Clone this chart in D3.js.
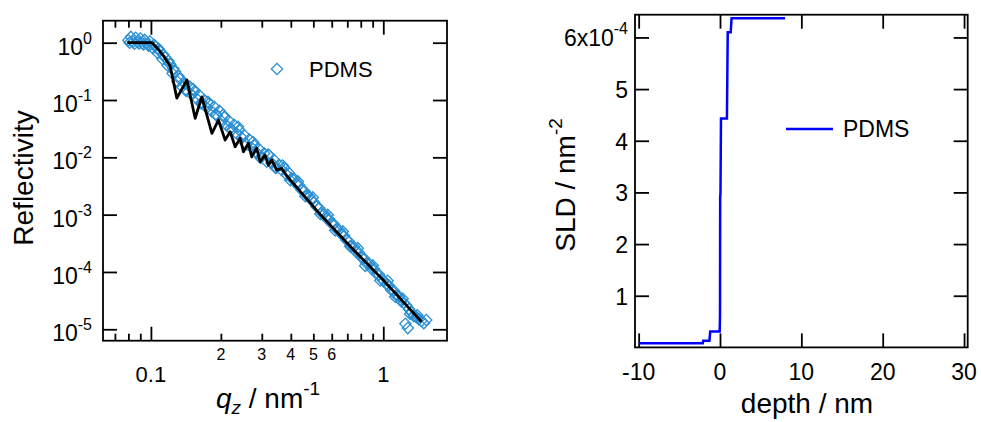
<!DOCTYPE html>
<html>
<head>
<meta charset="utf-8">
<script src="https://cdn.jsdelivr.net/npm/d3@7"></script>
<style>
  body { margin: 0; background: #fff; }
  svg text { font-family: "Liberation Sans", Arial, sans-serif; fill: #000; }
</style>
</head>
<body>
<svg id="chart" width="981" height="422"></svg>
<script>
(function () {
  "use strict";

  // reflectivity data (q in nm^-1)
  const qData = [0.080, 0.082, 0.084, 0.086, 0.088, 0.090, 0.092, 0.094, 0.097, 0.099,
    0.102, 0.104, 0.107, 0.109, 0.112, 0.115, 0.118, 0.121, 0.124, 0.127,
    0.130, 0.133, 0.136, 0.140, 0.143, 0.147, 0.150, 0.154, 0.158, 0.162,
    0.166, 0.170, 0.174, 0.178, 0.183, 0.187, 0.192, 0.197, 0.202, 0.207,
    0.212, 0.217, 0.223, 0.228, 0.234, 0.240, 0.246, 0.252, 0.258, 0.265,
    0.271, 0.278, 0.285, 0.292, 0.299, 0.307, 0.315, 0.322, 0.330, 0.339,
    0.347, 0.356, 0.365, 0.374, 0.383, 0.393, 0.403, 0.413, 0.423, 0.434,
    0.445, 0.456, 0.467, 0.479, 0.491, 0.503, 0.516, 0.529, 0.542, 0.556,
    0.570, 0.584, 0.598, 0.613, 0.629, 0.644, 0.661, 0.677, 0.694, 0.711,
    0.729, 0.748, 0.766, 0.786, 0.805, 0.826, 0.846, 0.867, 0.889, 0.911,
    0.934, 0.958, 0.982, 1.006, 1.031, 1.057, 1.084, 1.111, 1.139, 1.167,
    1.196, 1.226, 1.245, 1.257, 1.275, 1.289, 1.321, 1.354, 1.388, 1.422,
    1.458, 1.494, 1.530,
    // second pass of points in the same range
    0.081, 0.085, 0.089, 0.093, 0.098, 0.103, 0.108, 0.113, 0.119, 0.125,
    0.1315, 0.1415, 0.152, 0.164, 0.176, 0.1895, 0.2045, 0.220, 0.237, 0.255,
    0.275, 0.296, 0.319, 0.343, 0.369, 0.398, 0.429, 0.462, 0.497, 0.536,
    0.577, 0.621, 0.669, 0.720, 0.776, 0.836, 0.900, 0.970, 1.044, 1.125,
    1.211, 1.305, 1.400];
  const rData = [1.10, 1.26, 1.04, 1.22, 1.02, 1.18, 0.98, 1.12, 0.92, 1.05,
    0.80, 0.88, 0.66, 0.72, 0.52, 0.55, 0.40, 0.42, 0.29, 0.31,
    0.21, 0.233, 0.171, 0.195, 0.147, 0.171, 0.124, 0.142, 0.104, 0.120,
    0.088, 0.099, 0.073, 0.087, 0.063, 0.076, 0.055, 0.065, 0.042, 0.050,
    0.036, 0.043, 0.030, 0.037, 0.026, 0.030, 0.022, 0.0245, 0.0169, 0.0205,
    0.0148, 0.0163, 0.0121, 0.0140, 0.0102, 0.0117, 0.0084, 0.0110, 0.0080, 0.0090,
    0.0066, 0.0074, 0.0060, 0.0066, 0.0050, 0.0053, 0.0043, 0.0042, 0.0034, 0.0033,
    0.0027, 0.0026, 0.0022, 0.0021, 0.00178, 0.00165, 0.00138, 0.00130, 0.00108, 0.00104,
    0.00086, 0.00083, 0.00070, 0.00068, 0.00056, 0.00054, 0.00045, 0.00043, 0.00036, 0.00034,
    0.000280, 0.000272, 0.000222, 0.000216, 0.000180, 0.000172, 0.000142, 0.000140, 0.000114, 0.000113,
    0.0000930, 0.0000900, 0.0000760, 0.0000700, 0.0000610, 0.0000580, 0.0000480, 0.0000470, 0.0000390, 0.0000375,
    0.0000305, 0.0000290, 0.0000125, 0.0000260, 0.0000105, 0.0000225, 0.0000198, 0.0000170, 0.0000162, 0.0000150,
    0.0000140, 0.0000128, 0.0000145,
    1.00, 0.96, 0.97, 0.93, 0.88, 0.92, 0.78, 0.62, 0.48, 0.35,
    0.26, 0.145, 0.155, 0.088, 0.093, 0.056, 0.055, 0.032, 0.034, 0.0175,
    0.0185, 0.0098, 0.0112, 0.0066, 0.0072, 0.0040, 0.0038, 0.0021, 0.0020, 0.00103,
    0.00099, 0.00053, 0.00051, 0.00028, 0.00026, 0.000128, 0.000130, 0.000071, 0.000070, 0.000037,
    0.000034, 0.0000185, 0.0000175];

  // fit curve
  const qFit = [0.0791, 0.101, 0.1064, 0.1133, 0.121, 0.1293, 0.1428, 0.155, 0.1656, 0.183,
    0.1953, 0.2086, 0.2193, 0.2304, 0.2422, 0.250, 0.2627, 0.2716, 0.2852, 0.2952,
    0.3097, 0.3202, 0.3309, 0.3477, 0.3654, 0.385, 0.534, 0.718, 1.0, 1.461];
  const rFit = [1.0, 1.0, 0.808, 0.586, 0.392, 0.108, 0.223, 0.048, 0.113, 0.0262,
    0.0448, 0.020, 0.028, 0.0153, 0.0215, 0.0125, 0.0175, 0.0102, 0.0144, 0.0084,
    0.011, 0.0073, 0.009, 0.0060, 0.0064, 0.0047, 0.00102, 0.000283, 0.000072, 0.0000135];

  // SLD profile (depth nm, SLD nm^-2)
  const depth = [-10, -2.12, -2.06, -1.3, -1.2, -0.04, 0.0, 0.02, 0.06, 0.12, 0.85, 0.95, 1.32, 1.42, 8.0];
  const sld = [0.08e-4, 0.08e-4, 0.13e-4, 0.13e-4, 0.31e-4, 0.31e-4, 0.6e-4, 2.9e-4, 3.0e-4, 4.43e-4,
    4.43e-4, 6.1e-4, 6.1e-4, 6.37e-4, 6.37e-4];

  const qMajor = [0.1, 1];
  const qMinor = [0.07, 0.08, 0.09, 0.2, 0.3, 0.4, 0.5, 0.6, 0.7, 0.8, 0.9];
  const qMinorLabels = [0.2, 0.3, 0.4, 0.5, 0.6];
  const rTicks = [1, 1e-1, 1e-2, 1e-3, 1e-4, 1e-5];
  const depthTicks = [-10, 0, 10, 20, 30];
  const sldTicks = [1e-4, 2e-4, 3e-4, 4e-4, 5e-4, 6e-4];

  const seriesName = "PDMS";
  const dataColor = "#2a8fd3";
  const sldColor = "#0000ff";

  const svg = d3.select("#chart");

  function ticks(g, axis, transform) {
    const a = g.append("g").attr("transform", transform).call(axis);
    a.select(".domain").remove();
    a.selectAll("line").attr("stroke", "#000").attr("stroke-width", 1.8);
    a.selectAll("text").remove();
    return a;
  }

  // ---------- left: reflectivity ----------
  const L = { left: 103, right: 447, top: 20.7, bottom: 340.7 };
  const x1 = d3.scaleLog().domain([0.0622, 1.88]).range([L.left, L.right]);
  const y1 = d3.scaleLog().domain([6.32e-6, 2.42]).range([L.bottom, L.top]);
  const gl = svg.append("g");

  ticks(gl, d3.axisBottom(x1).tickValues(qMajor).tickSizeInner(-14).tickSizeOuter(0), `translate(0,${L.bottom})`);
  ticks(gl, d3.axisBottom(x1).tickValues(qMinor).tickSizeInner(-7).tickSizeOuter(0), `translate(0,${L.bottom})`);
  ticks(gl, d3.axisTop(x1).tickValues(qMajor).tickSizeInner(-14).tickSizeOuter(0), `translate(0,${L.top})`);
  ticks(gl, d3.axisTop(x1).tickValues(qMinor).tickSizeInner(-7).tickSizeOuter(0), `translate(0,${L.top})`);
  ticks(gl, d3.axisLeft(y1).tickValues(rTicks).tickSizeInner(-14).tickSizeOuter(0), `translate(${L.left},0)`);
  ticks(gl, d3.axisRight(y1).tickValues(rTicks).tickSizeInner(-14).tickSizeOuter(0), `translate(${L.right},0)`);

  const diamond = d3.symbol().type(d3.symbolSquare).size(64);
  gl.append("g").selectAll("path")
    .data(qData.map((q, i) => [q, rData[i]]))
    .join("path")
    .attr("d", diamond)
    .attr("transform", d => `translate(${x1(d[0])},${y1(d[1])}) rotate(45)`)
    .attr("fill", "none")
    .attr("stroke", dataColor)
    .attr("stroke-width", 1.3);

  gl.append("path")
    .datum(qFit.map((q, i) => [q, rFit[i]]))
    .attr("d", d3.line().x(d => x1(d[0])).y(d => y1(d[1])))
    .attr("fill", "none")
    .attr("stroke", "#000")
    .attr("stroke-width", 2.8)
    .attr("stroke-linejoin", "round");

  gl.append("rect")
    .attr("x", L.left).attr("y", L.top)
    .attr("width", L.right - L.left).attr("height", L.bottom - L.top)
    .attr("fill", "none").attr("stroke", "#000").attr("stroke-width", 1.8);

  // y tick labels 10^n
  rTicks.forEach(v => {
    const t = gl.append("text")
      .attr("x", L.left - 11).attr("y", y1(v) + 12)
      .attr("text-anchor", "end").style("font-size", "23px");
    t.append("tspan").text("10");
    t.append("tspan").attr("dy", -11).style("font-size", "16px").text(Math.round(Math.log10(v)));
  });
  qMajor.forEach(v => {
    gl.append("text").attr("x", x1(v)).attr("y", L.bottom + 41)
      .attr("text-anchor", "middle").style("font-size", "22px").text(v);
  });
  qMinorLabels.forEach(v => {
    gl.append("text").attr("x", x1(v)).attr("y", L.bottom + 19)
      .attr("text-anchor", "middle").style("font-size", "16px").text(Math.round(v * 10));
  });

  const xt = gl.append("text").attr("x", 268).attr("y", 408)
    .attr("text-anchor", "middle").style("font-size", "28px");
  xt.append("tspan").style("font-style", "italic").text("q");
  xt.append("tspan").attr("dy", 6).style("font-size", "19px").style("font-style", "italic").text("z");
  xt.append("tspan").attr("dy", -6).text(" / nm");
  xt.append("tspan").attr("dy", -13).style("font-size", "19px").text("-1");

  gl.append("text").attr("transform", "translate(33,178) rotate(-90)")
    .attr("text-anchor", "middle").style("font-size", "28px").text("Reflectivity");

  gl.append("path").attr("d", diamond)
    .attr("transform", "translate(277,69) rotate(45)")
    .attr("fill", "none").attr("stroke", dataColor).attr("stroke-width", 1.3);
  gl.append("text").attr("x", 309).attr("y", 76.5).style("font-size", "22px").text(seriesName);

  // ---------- right: SLD profile ----------
  const R = { left: 635, right: 967.7, top: 14.7, bottom: 347.4 };
  const x2 = d3.scaleLinear().domain([-10.45, 30.45]).range([R.left, R.right]);
  const y2 = d3.scaleLinear().domain([0, 6.44e-4]).range([R.bottom, R.top]);
  const gr = svg.append("g");

  ticks(gr, d3.axisBottom(x2).tickValues(depthTicks).tickSizeInner(-14).tickSizeOuter(0), `translate(0,${R.bottom})`);
  ticks(gr, d3.axisTop(x2).tickValues(depthTicks).tickSizeInner(-14).tickSizeOuter(0), `translate(0,${R.top})`);
  ticks(gr, d3.axisLeft(y2).tickValues(sldTicks).tickSizeInner(-14).tickSizeOuter(0), `translate(${R.left},0)`);
  ticks(gr, d3.axisRight(y2).tickValues(sldTicks).tickSizeInner(-14).tickSizeOuter(0), `translate(${R.right},0)`);

  gr.append("path")
    .datum(depth.map((d, i) => [d, sld[i]]))
    .attr("d", d3.line().x(d => x2(d[0])).y(d => y2(d[1])))
    .attr("fill", "none")
    .attr("stroke", sldColor)
    .attr("stroke-width", 2.5);

  gr.append("rect")
    .attr("x", R.left).attr("y", R.top)
    .attr("width", R.right - R.left).attr("height", R.bottom - R.top)
    .attr("fill", "none").attr("stroke", "#000").attr("stroke-width", 1.8);

  depthTicks.forEach(v => {
    gr.append("text").attr("x", x2(v)).attr("y", R.bottom + 33)
      .attr("text-anchor", "middle").style("font-size", "23px").text(v);
  });
  sldTicks.forEach(v => {
    const t = gr.append("text").attr("x", 628).attr("y", y2(v) + 9)
      .attr("text-anchor", "end").style("font-size", "23px");
    if (v === 6e-4) {
      t.append("tspan").text("6x10");
      t.append("tspan").attr("dy", -12).style("font-size", "16px").text("-4");
    } else {
      t.text(Math.round(v * 1e4));
    }
  });

  gr.append("text").attr("x", 807).attr("y", 413)
    .attr("text-anchor", "middle").style("font-size", "28px").text("depth / nm");

  const yt = gr.append("text").attr("transform", "translate(575,185) rotate(-90)")
    .attr("text-anchor", "middle").style("font-size", "28px");
  yt.append("tspan").text("SLD / nm");
  yt.append("tspan").attr("dy", -13).style("font-size", "19px").text("-2");

  gr.append("line").attr("x1", 786).attr("x2", 833).attr("y1", 129).attr("y2", 129)
    .attr("stroke", sldColor).attr("stroke-width", 2.5);
  gr.append("text").attr("x", 843).attr("y", 137).style("font-size", "23px").text(seriesName);
})();
</script>
</body>
</html>
